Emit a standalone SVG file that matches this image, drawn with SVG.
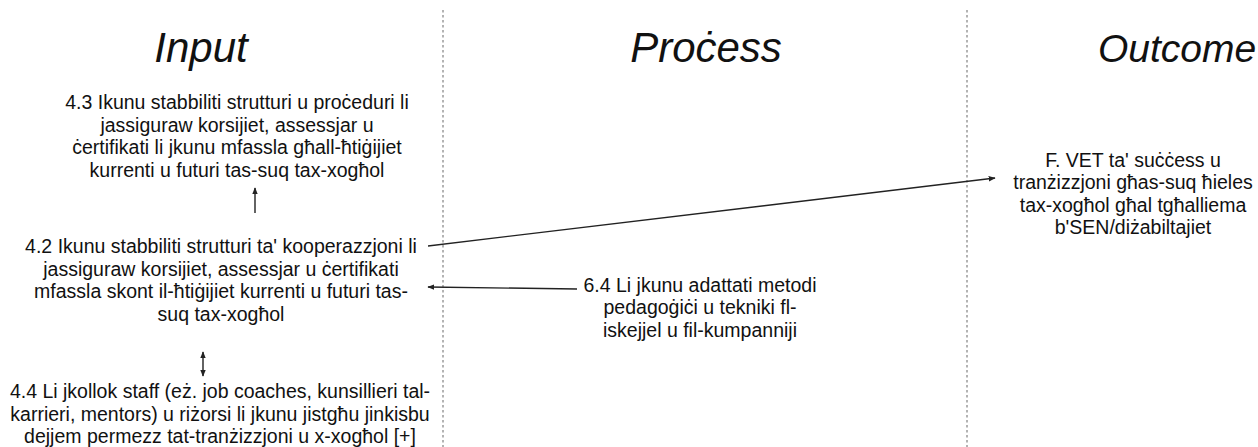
<svg xmlns="http://www.w3.org/2000/svg" width="1258" height="447" viewBox="0 0 1258 447">
<defs>
<style>
.title{font-family:"Liberation Sans",Arial,Helvetica,sans-serif;font-style:italic;font-size:42px;fill:#111;text-anchor:middle}
.body{font-family:"Liberation Sans",Arial,Helvetica,sans-serif;font-size:19.5px;fill:#111;text-anchor:middle}
.div{stroke:#9a9a9a;stroke-width:1.5;stroke-dasharray:2.5 2.5;fill:none}
.conn{stroke:#222;stroke-width:1.4;fill:none}
</style>
<marker id="ah" viewBox="0 0 10 10" refX="9" refY="5" markerWidth="7" markerHeight="7" markerUnits="userSpaceOnUse" orient="auto-start-reverse">
<path d="M0,1 L10,5 L0,9 z" fill="#222"/>
</marker>
</defs>
<rect width="1258" height="447" fill="#ffffff"/>
<g id="dividers">
<line class="div" x1="443" y1="10" x2="443" y2="447"/>
<line class="div" x1="967" y1="10" x2="967" y2="447"/>
</g>
<g id="titles">
<text class="title" x="201" y="62">Input</text>
<text class="title" x="706" y="62">Proċess</text>
<text class="title" x="1177" y="62" style="font-size:39px">Outcome</text>
</g>
<g id="node-4-3">
<text class="body" x="237" y="109"><tspan x="237">4.3 Ikunu stabbiliti strutturi u proċeduri li</tspan><tspan x="237" dy="22.7">jassiguraw korsijiet, assessjar u</tspan><tspan x="237" dy="22.7">ċertifikati li jkunu mfassla għall-ħtiġijiet</tspan><tspan x="237" dy="22.7">kurrenti u futuri tas-suq tax-xogħol</tspan></text>
</g>
<g id="node-4-2">
<text class="body" x="221" y="253"><tspan x="221">4.2 Ikunu stabbiliti strutturi ta' kooperazzjoni li</tspan><tspan x="221" dy="22.7">jassiguraw korsijiet, assessjar u ċertifikati</tspan><tspan x="221" dy="22.7">mfassla skont il-ħtiġijiet kurrenti u futuri tas-</tspan><tspan x="221" dy="22.7">suq tax-xogħol</tspan></text>
</g>
<g id="node-4-4">
<text class="body" x="220" y="398"><tspan x="220">4.4 Li jkollok staff (eż. job coaches, kunsillieri tal-</tspan><tspan x="220" dy="22.7">karrieri, mentors) u riżorsi li jkunu jistgħu jinkisbu</tspan><tspan x="220" dy="22.7">dejjem permezz tat-tranżizzjoni u x-xogħol [+]</tspan></text>
</g>
<g id="node-6-4">
<text class="body" x="700" y="292"><tspan x="700">6.4 Li jkunu adattati metodi</tspan><tspan x="700" dy="22.3">pedagoġiċi u tekniki fl-</tspan><tspan x="700" dy="22.3">iskejjel u fil-kumpanniji</tspan></text>
</g>
<g id="node-F">
<text class="body" x="1133" y="167"><tspan x="1133">F. VET ta' suċċess u</tspan><tspan x="1133" dy="22.3">tranżizzjoni għas-suq ħieles</tspan><tspan x="1133" dy="22.3">tax-xogħol għal tgħalliema</tspan><tspan x="1133" dy="22.3">b'SEN/diżabiltajiet</tspan></text>
</g>
<g id="connectors">
<line class="conn" x1="428" y1="246" x2="995" y2="178" marker-end="url(#ah)"/>
<line class="conn" x1="577" y1="289" x2="428" y2="287" marker-end="url(#ah)"/>
<line class="conn" x1="255" y1="213" x2="255" y2="188" marker-end="url(#ah)"/>
<line class="conn" x1="203" y1="352" x2="203" y2="376" marker-start="url(#ah)" marker-end="url(#ah)"/>
</g>
</svg>
